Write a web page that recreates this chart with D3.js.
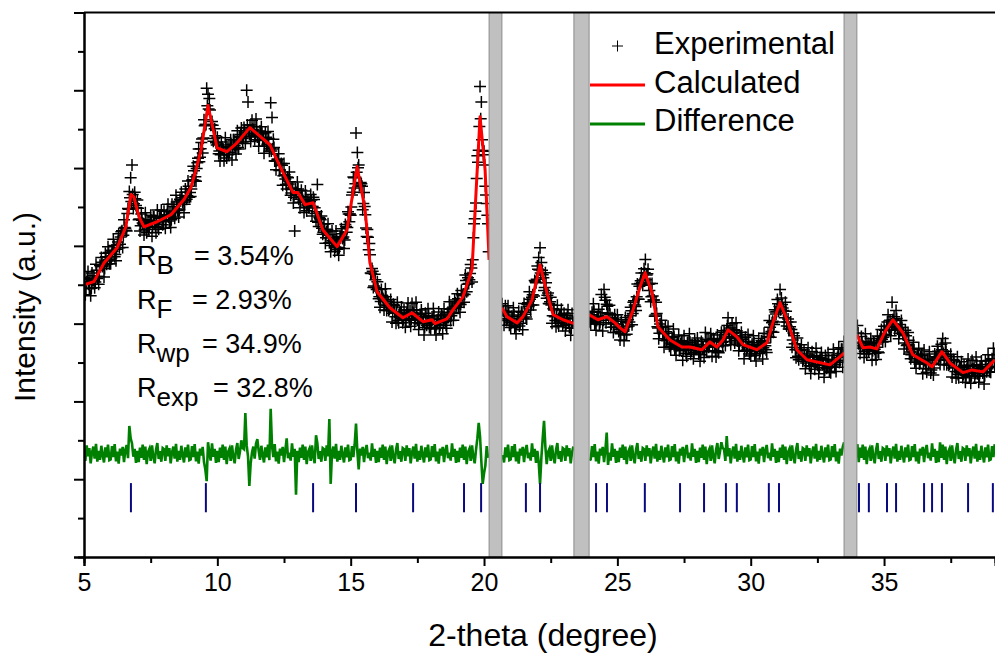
<!DOCTYPE html>
<html>
<head>
<meta charset="utf-8">
<script src="https://cdn.jsdelivr.net/npm/d3@7/dist/d3.min.js"></script>
<style>
  body { margin: 0; background: #fff; }
  text { font-family: Arial, "Liberation Sans", sans-serif; fill: #000; }
</style>
</head>
<body>
<svg id="chart" width="995" height="656"></svg>
<script>
// measurement grid: two interleaved scans, 0.05 deg steps, offset by 0.025 deg
var thetaStart = 5.0, thetaStartHalf = 5.025, thetaStep = 0.05;

// observed intensity, one row per degree (x.00 .. x.95), null = excluded region
var observed = [
  718,674,708,734,690,672,730,711,692,753,716,701,750,770,747,720,781,753,798,754,
  754,789,817,772,762,802,831,804,836,796,867,845,838,896,940,975,1008,896,938,904,
  918,867,838,882,859,828,885,834,863,848,879,825,875,858,834,892,843,873,892,854,
  889,845,880,907,864,847,907,889,871,930,891,874,920,938,912,885,946,920,967,925,
  927,969,1005,968,966,1014,1049,1028,1066,1039,1124,1112,1205,1190,1179,1110,1120,1069,1101,1065,
  1079,1037,1018,1067,1049,1019,1078,1026,1054,1041,1073,1021,1073,1058,1036,1096,1049,1082,1103,1067,
  1104,1063,1200,1170,1089,1068,1123,1098,1073,1126,1080,1056,1095,1106,1073,1038,1091,1056,1094,1043,
  1168,1130,1074,1018,996,1023,1037,995,1012,956,1012,972,946,975,990,930,949,910,838,936,
  964,920,898,943,919,886,941,890,918,903,932,877,925,898,863,958,850,870,877,830,
  856,807,836,857,808,785,838,812,786,838,791,776,824,844,819,793,855,835,888,862,
  879,931,977,949,1090,1040,1008,955,960,893,937,880,824,822,806,730,742,693,727,693,
  708,664,642,688,667,635,690,634,657,637,662,604,650,629,601,655,602,628,643,602,
  635,591,626,653,610,593,652,627,602,655,609,585,624,635,602,571,627,596,638,590,
  587,617,639,587,571,606,630,596,622,574,638,606,588,629,656,608,639,609,661,645,
  677,642,629,685,672,655,725,682,718,713,752,707,821,870,910,1032,1046,1210,1170,1045,
  1043,953,909,857,null,null,null,null,null,null,null,null,null,null,634,596,646,608,646,596,
  590,619,641,590,574,606,632,601,629,584,652,624,612,654,682,635,668,648,711,705,
  748,770,795,757,726,685,731,665,679,651,668,601,638,618,592,647,594,622,637,595,
  627,581,613,636,590,570,626,603,null,null,null,null,null,null,null,null,null,null,null,605,
  600,629,651,599,583,615,637,603,675,581,688,660,650,627,647,591,615,577,623,599,
  623,580,558,606,587,556,616,573,610,604,642,597,655,648,634,702,663,703,730,699,
  741,765,725,740,685,656,703,661,619,655,592,561,599,609,575,539,592,556,593,542,
  535,564,586,535,519,551,571,534,556,506,569,535,516,552,574,521,546,510,557,536,
  563,522,503,554,538,513,577,528,558,545,574,516,562,541,514,571,525,557,578,543,
  582,544,583,615,567,546,600,575,550,602,556,530,568,578,544,510,565,532,572,522,
  517,547,569,519,504,538,562,529,556,509,575,543,526,574,608,565,602,578,636,625,
  662,632,688,666,640,604,655,594,612,586,604,539,576,548,512,563,507,533,546,503,
  532,484,514,538,492,472,528,505,483,537,493,471,513,526,495,462,518,485,525,477,
  474,508,534,488,477,513,538,506,534,488,554,null,null,null,null,null,null,null,null,null,
  595,548,523,567,543,513,574,522,549,534,562,506,553,534,508,568,525,561,585,553,
  593,554,593,623,583,569,655,610,583,634,586,561,598,608,574,535,583,544,577,522,
  510,535,552,501,485,517,537,500,522,471,532,496,475,509,528,473,496,468,522,508,
  542,507,495,547,562,495,550,494,516,496,521,463,508,488,460,515,461,488,502,461,
  493,449,483,509,465,447,505,482,460,514,471,449,490,504,473,445,504,476,520,476,
  475,510,537,490
];

// second scan (x.025 .. x.975)
var observedHalf = [
  706,691,717,701,714,691,710,723,707,737,721,721,747,758,751,742,772,761,783,765,
  769,786,801,778,791,810,795,823,839,827,847,840,883,894,924,914,932,908,921,898,
  897,869,852,866,856,842,867,849,843,860,866,850,874,849,864,848,871,876,864,863,
  877,862,889,874,888,867,887,901,885,913,895,892,916,924,916,907,938,929,953,937,
  946,970,993,978,999,1025,1016,1050,1075,1077,1109,1112,1160,1152,1149,1111,1110,1076,1083,1059,
  1062,1044,1034,1054,1046,1034,1059,1041,1035,1054,1061,1047,1073,1050,1067,1053,1078,1086,1076,1077,
  1093,1081,1111,1098,1111,1085,1100,1107,1084,1106,1081,1071,1088,1089,1073,1056,1079,1061,1076,1050,
  1044,1049,1053,1018,1019,1023,994,1007,1007,980,983,958,977,959,965,936,945,925,946,937,
  946,925,912,927,915,899,923,905,898,914,918,901,919,883,888,861,873,867,845,835,
  841,821,842,821,829,801,814,820,797,817,796,795,821,831,823,815,850,847,882,882,
  900,938,975,960,989,1001,955,963,953,909,901,846,842,790,777,729,735,697,713,688,
  690,669,657,673,663,648,669,646,634,646,647,627,647,618,629,609,628,629,614,610,
  623,608,635,620,634,612,629,636,613,635,610,600,617,618,604,590,617,603,621,600,
  600,611,620,590,598,611,591,612,621,602,613,596,625,619,637,620,640,626,653,648,
  664,652,649,674,676,675,711,701,703,729,743,764,857,889,973,1015,1107,1127,1073,1034,
  1008,931,879,785,null,null,null,null,null,null,null,null,null,651,632,612,632,613,628,604,
  602,613,622,593,599,612,594,618,629,614,629,617,649,644,663,648,674,671,708,714,
  740,738,730,737,718,693,705,673,652,656,648,620,635,608,620,601,621,623,607,603,
  614,597,620,602,613,588,604,null,null,null,null,null,null,null,null,null,null,null,null,614,
  612,623,632,602,608,619,598,619,628,609,668,602,645,613,624,599,612,591,611,598,
  606,585,574,592,584,571,602,592,594,620,633,626,659,644,669,663,696,710,706,712,
  731,713,728,701,703,669,671,661,622,626,589,575,591,591,574,557,579,560,575,550,
  547,558,567,538,544,554,530,548,554,533,543,524,550,539,552,530,544,525,546,537,
  547,529,520,542,538,530,560,544,539,556,559,539,559,530,543,529,554,561,552,554,
  573,563,595,580,589,563,577,584,561,582,556,544,560,560,544,529,554,538,554,531,
  530,541,551,523,530,543,523,546,555,538,550,533,566,567,591,580,606,598,630,631,
  651,644,636,649,634,615,632,604,586,592,585,558,569,533,538,516,533,533,516,509,
  518,499,522,504,515,490,506,515,495,518,495,487,507,510,496,481,507,491,508,487,
  489,504,518,494,504,519,500,523,534,517,null,null,null,null,null,null,null,null,null,null,
  576,552,537,551,540,529,555,536,529,545,548,530,551,524,539,527,556,567,560,565,
  583,573,604,592,609,590,610,618,593,613,586,575,590,590,572,550,569,546,557,527,
  520,527,533,504,510,520,496,514,519,497,505,484,508,495,505,481,498,486,515,512,
  529,517,513,533,524,508,529,506,493,505,506,486,505,477,488,469,487,489,473,469,
  481,466,492,476,489,466,483,492,472,495,473,465,484,488,476,466,495,484,505,487,
  490,507,520
];

// observed - calculated, first scan grid
var difference = [
  12,-18,22,-6,15,-24,4,19,-12,26,-20,8,-15,21,-3,-22,17,-9,24,-16,
  -14,20,-8,25,-19,6,-25,14,-4,18,-21,10,23,-11,72,40,27,-7,13,-23,
  8,-21,16,-10,24,-15,19,-26,5,13,-18,22,-8,-24,11,28,-13,7,-20,15,
  12,-18,22,-6,15,-24,4,19,-12,26,-20,8,-15,21,-3,-22,17,-9,24,-16,
  -14,20,-8,25,-19,6,-25,14,-4,18,-21,-40,-70,30,3,-17,27,-7,13,-23,
  8,-21,16,-10,24,-15,19,-26,5,13,-18,22,-8,-24,11,28,-13,7,35,15,
  12,105,22,-6,-82,-24,4,19,-12,26,38,8,-15,21,-3,-22,17,-9,24,-16,
  116,20,-8,25,-19,6,-25,14,-4,18,-21,10,40,-11,3,-17,27,-7,13,-105,
  8,-21,16,-10,24,-15,19,-26,5,13,-18,22,-8,-24,48,28,-13,7,-20,15,
  12,-18,22,-6,90,-77,4,19,-12,26,-20,8,-15,21,-3,-22,17,-9,24,-16,
  -14,20,-8,25,78,6,-40,14,-4,18,-21,10,23,-11,3,-17,27,-7,13,-23,
  8,-21,16,-10,24,-15,19,-26,5,13,-18,22,-8,-24,11,28,-13,7,-20,15,
  12,-18,22,-6,15,-24,4,19,-12,26,-20,8,-15,21,-3,-22,17,-9,24,-16,
  -14,20,-8,25,-19,6,-25,14,-4,18,-21,10,23,-11,3,-17,27,-7,13,-23,
  8,-21,16,-10,24,-15,19,-26,5,13,-18,22,-8,-24,11,40,80,45,-20,-77,
  -50,-30,20,-10,null,null,null,null,null,null,null,null,null,null,-3,-22,17,-9,24,-16,
  -14,20,-8,25,-19,6,-25,14,-4,18,-21,10,23,-11,3,-17,27,-7,13,-23,
  8,-21,-77,-10,40,85,19,-26,5,13,-18,22,-8,-24,11,28,-13,7,-20,15,
  12,-18,22,-6,15,-24,4,19,null,null,null,null,null,null,null,null,null,null,null,-16,
  -14,20,-8,25,-19,6,-25,14,-4,18,-21,10,55,-28,3,-17,27,-7,13,-23,
  8,-21,16,-10,24,-15,19,-26,5,13,-18,22,-8,-24,11,28,-13,7,-20,15,
  12,-18,22,-6,15,-24,4,19,-12,26,-20,8,-15,21,-3,-22,17,-9,24,-16,
  -14,20,-8,25,-19,6,-25,14,-4,18,-21,10,23,-11,3,-17,27,-7,13,-23,
  8,-21,16,-10,24,-15,19,-26,5,13,-18,22,-8,-24,11,28,-13,7,30,15,
  12,-18,46,-6,15,-24,4,19,-12,26,-20,8,-15,21,-3,-22,17,-9,24,-16,
  -14,20,-8,25,-19,6,-25,14,-4,18,-21,10,23,-11,3,-17,27,-7,13,-23,
  8,-21,16,-10,24,-15,19,-26,5,13,-18,22,-8,-24,11,28,-13,7,-20,15,
  12,-18,22,-6,15,-24,4,19,-12,26,-20,8,-15,21,-3,-22,17,-9,24,-16,
  -14,20,-8,25,-19,6,-25,14,-4,18,30,null,null,null,null,null,null,null,null,null,
  25,-21,16,-10,24,-15,19,-26,5,13,-18,22,-8,-24,11,28,-13,7,-20,15,
  12,-18,22,-6,15,-24,4,19,-12,26,-20,8,-15,21,-3,-22,17,-9,24,-16,
  -14,20,-8,25,-19,6,-25,14,-4,18,-21,10,23,-11,3,-17,27,-7,13,-23,
  8,-21,30,-10,24,-15,19,-26,5,13,-18,22,-8,-24,11,28,-13,7,-20,15,
  12,-18,22,-6,15,-24,4,19,-12,26,-20,8,-15,21,-3,-22,17,-9,24,-16,
  -14,20,-8,25
];

// calculated profile (knots of the fitted curve), null breaks the line
var calcTheta = [5.00,5.37,5.75,6.24,6.57,6.76,6.87,7.06,7.25,7.74,8.26,8.75,9.01,9.20,9.39,9.65,
  9.99,10.36,10.74,11.22,11.97,12.35,12.84,13.02,13.29,13.59,13.96,14.49,14.86,15.24,15.54,15.72,
  15.99,16.47,16.96,17.30,17.71,18.05,18.16,18.61,18.84,19.21,19.55,19.66,19.85,20.04,20.19,
  20.40,
  20.67,20.86,21.24,21.46,21.80,22.10,22.36,22.59,22.96,23.30,23.37,
  23.60,
  23.94,24.27,24.61,24.91,25.10,25.29,25.59,25.85,26.04,26.30,26.52,26.97,27.42,27.72,28.17,28.47,
  28.73,28.96,29.15,29.48,29.71,30.23,30.61,30.83,31.10,31.36,31.73,32.11,32.97,33.35,33.50,
  33.70,
  33.98,34.21,34.47,34.73,35.03,35.33,35.71,36.08,36.61,36.80,37.17,37.47,37.96,38.30,38.71,39.16];
var calcIntensity = [700,708,756,795,849,932,926,875,849,862,880,919,950,996,1047,1161,
  1052,1042,1065,1104,1060,1004,937,937,906,911,841,798,841,1004,893,757,
  682,641,615,628,605,610,600,612,636,669,739,885,1132,996,764,
  null,
  641,618,602,618,661,751,679,623,610,602,600,
  null,
  623,610,618,602,589,579,636,695,731,679,592,558,540,540,533,553,
  540,558,584,566,546,533,551,602,654,610,533,507,494,515,525,
  null,
  571,538,540,535,579,610,576,520,499,489,528,499,474,481,476,507];

// Bragg reflection positions
var braggPeaks = [6.76,9.57,13.59,15.20,17.34,19.25,19.89,21.57,22.10,24.20,24.61,26.03,27.35,28.25,
  29.07,29.48,30.68,31.06,34.06,34.43,35.11,35.45,36.50,36.80,37.17,38.15,39.08];

// excluded 2-theta regions
var excludedRanges = [[20.19, 20.67], [23.37, 23.94], [33.50, 33.98]];

var xMajorTicks = [5, 10, 15, 20, 25, 30, 35];
var xMinorTicks = [7.5, 12.5, 17.5, 22.5, 27.5, 32.5, 37.5];
var yMajorTicks = [0, 200, 400, 600, 800, 1000, 1200, 1400];
var yMinorTicks = [100, 300, 500, 700, 900, 1100, 1300];

var legendLabels = ["Experimental", "Calculated", "Difference"];
var statSubscripts = ["B", "F", "wp", "exp"];
var statValues = ["3.54%", "2.93%", "34.9%", "32.8%"];

var diffBaseline = 265;
var braggLow = 115, braggHigh = 190;

var margin = {left: 84, top: 12.5, right: 0, bottom: 99};
var width = 995, height = 656;

var svg = d3.select("#chart");
var x = d3.scaleLinear().domain([5, 39.16]).range([margin.left, width - margin.right]);
var y = d3.scaleLinear().domain([0, 1400]).range([height - margin.bottom, margin.top]);

svg.append("clipPath").attr("id", "plotClip")
    .append("rect")
    .attr("x", margin.left).attr("y", margin.top)
    .attr("width", width - margin.left - margin.right)
    .attr("height", height - margin.bottom - margin.top);

var plot = svg.append("g").attr("clip-path", "url(#plotClip)");

// observed points as crosses (both scans)
function toPoints(values, start) {
    return values.map(function (v, i) {
        return {t: start + i * thetaStep, v: v};
    }).filter(function (d) { return d.v !== null; });
}
var obsPoints = toPoints(observed, thetaStart).concat(toPoints(observedHalf, thetaStartHalf));

plot.append("g").selectAll("path")
    .data(obsPoints)
    .join("path")
    .attr("d", function (d) {
        var px = x(d.t), py = y(d.v);
        return "M" + (px - 6) + "," + py + "h12M" + px + "," + (py - 6) + "v12";
    })
    .attr("stroke", "#000")
    .attr("stroke-width", 1.5)
    .attr("fill", "none");

// calculated curve
var calcPoints = calcTheta.map(function (t, i) { return [t, calcIntensity[i]]; });
var line = d3.line()
    .defined(function (d) { return d[1] !== null; })
    .x(function (d) { return x(d[0]); })
    .y(function (d) { return y(d[1]); });

plot.append("path")
    .attr("d", line(calcPoints))
    .attr("fill", "none")
    .attr("stroke", "#ff0000")
    .attr("stroke-width", 3)
    .attr("stroke-linejoin", "round");

// difference curve
var diffPoints = difference.map(function (v, i) {
    return [thetaStart + i * thetaStep, v === null ? null : diffBaseline + v];
});
plot.append("path")
    .attr("d", line(diffPoints))
    .attr("fill", "none")
    .attr("stroke", "#008000")
    .attr("stroke-width", 2.6);

// Bragg ticks
plot.append("g").selectAll("line")
    .data(braggPeaks)
    .join("line")
    .attr("x1", function (d) { return x(d); })
    .attr("x2", function (d) { return x(d); })
    .attr("y1", y(braggLow))
    .attr("y2", y(braggHigh))
    .attr("stroke", "#0a0a80")
    .attr("stroke-width", 2);

// excluded regions
svg.append("g").selectAll("rect")
    .data(excludedRanges)
    .join("rect")
    .attr("x", function (d) { return x(d[0]); })
    .attr("width", function (d) { return x(d[1]) - x(d[0]); })
    .attr("y", margin.top)
    .attr("height", height - margin.bottom - margin.top)
    .attr("fill", "#c0c0c0")
    .attr("stroke", "#8c8c8c")
    .attr("stroke-width", 1);

// axes
var xAxis = svg.append("g").attr("transform", "translate(0," + (height - margin.bottom) + ")")
    .call(d3.axisBottom(x).tickValues(xMajorTicks).tickSize(9).tickPadding(7).tickFormat(d3.format("d")));
svg.append("g").attr("transform", "translate(0," + (height - margin.bottom) + ")")
    .call(d3.axisBottom(x).tickValues(xMinorTicks).tickSize(6).tickFormat(""));
svg.append("g").attr("transform", "translate(" + margin.left + ",0)")
    .call(d3.axisLeft(y).tickValues(yMajorTicks).tickSize(10).tickFormat(""));
svg.append("g").attr("transform", "translate(" + margin.left + ",0)")
    .call(d3.axisLeft(y).tickValues(yMinorTicks).tickSize(6).tickFormat(""));

svg.selectAll(".domain").attr("stroke", "#000").attr("stroke-width", 2);
svg.selectAll(".tick line").attr("stroke", "#000").attr("stroke-width", 2);
xAxis.selectAll("text").style("font-size", "25px").style("font-family", "Arial, 'Liberation Sans', sans-serif");

// top frame
svg.append("line")
    .attr("x1", margin.left).attr("x2", width)
    .attr("y1", margin.top).attr("y2", margin.top)
    .attr("stroke", "#000").attr("stroke-width", 2);

// axis titles
svg.append("text")
    .attr("x", 543).attr("y", 646)
    .attr("text-anchor", "middle")
    .style("font-size", "32px")
    .text("2-theta (degree)");
svg.append("text")
    .attr("transform", "translate(35,307) rotate(-90)")
    .attr("text-anchor", "middle")
    .style("font-size", "30px")
    .text("Intensity (a.u.)");

// legend
var legend = svg.append("g");
legend.append("path")
    .attr("d", "M612,46h11M617.5,40.5v11")
    .attr("stroke", "#000").attr("stroke-width", 1);
legend.append("line").attr("x1", 590).attr("x2", 645).attr("y1", 85).attr("y2", 85)
    .attr("stroke", "#ff0000").attr("stroke-width", 3);
legend.append("line").attr("x1", 590).attr("x2", 645).attr("y1", 124).attr("y2", 124)
    .attr("stroke", "#008000").attr("stroke-width", 3);
legend.selectAll("text")
    .data(legendLabels)
    .join("text")
    .attr("x", 654)
    .attr("y", function (d, i) { return 54 + i * 38.5; })
    .style("font-size", "31px")
    .text(function (d) { return d; });

// refinement statistics
var eqX = [194, 192, 202, 213];
var stats = svg.append("g");
statSubscripts.forEach(function (s, i) {
    var t = stats.append("text")
        .attr("x", 137)
        .attr("y", 265 + i * 44)
        .style("font-size", "27px");
    t.append("tspan").text("R");
    t.append("tspan").attr("dy", 9).style("font-size", "26px").text(s);
    t.append("tspan").attr("dy", -9).attr("x", eqX[i]).text("= " + statValues[i]);
});
</script>
</body>
</html>
